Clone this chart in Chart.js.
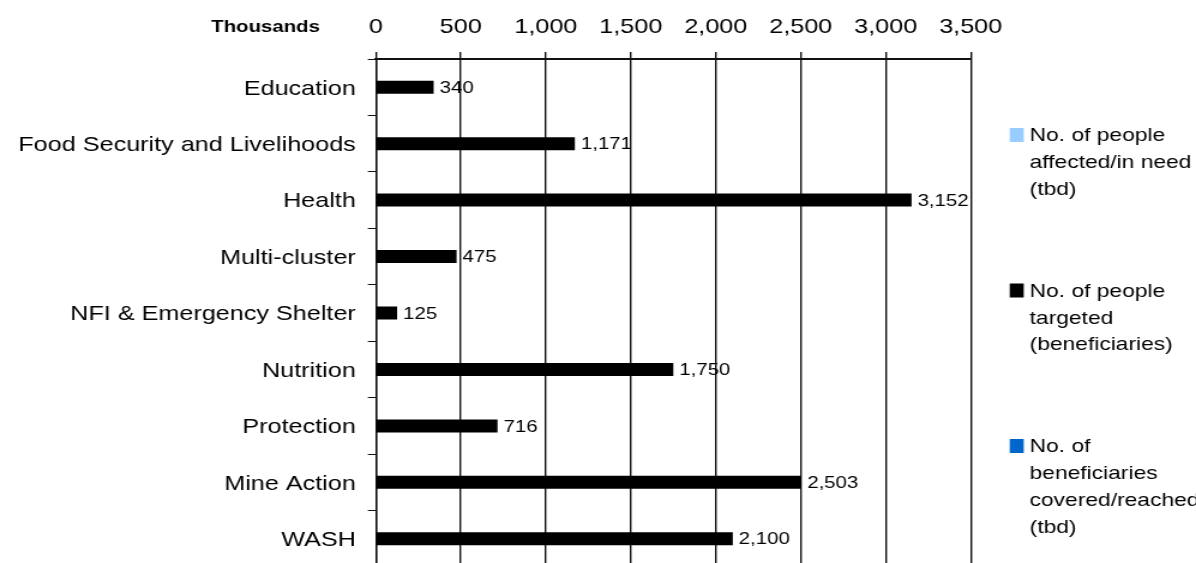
<!DOCTYPE html>
<html>
<head>
<meta charset="utf-8">
<script src="https://cdn.jsdelivr.net/npm/chart.js@4/dist/chart.umd.min.js"></script>
<style>
  html, body { margin: 0; padding: 0; background: #ffffff; overflow: hidden; }
  #wrap { width: 1196px; height: 563px; overflow: hidden; }
  /* the chart is laid out on a narrower canvas and widened, giving the broad lettering */
  #stage { width: 997px; height: 570px; transform: scaleX(1.1996); transform-origin: 0 0; }
</style>
</head>
<body>
<div id="wrap"><div id="stage"><canvas id="chart" width="997" height="570"></canvas></div></div>
<script>
// Clusters (rows, top to bottom)
const categories = [
  'Education',
  'Food Security and Livelihoods',
  'Health',
  'Multi-cluster',
  'NFI & Emergency Shelter',
  'Nutrition',
  'Protection',
  'Mine Action',
  'WASH'
];

// Series values, in thousands of people (null = not yet determined)
const peopleInNeed   = [null, null, null, null, null, null, null, null, null];
const peopleTargeted = [340, 1171, 3152, 475, 125, 1750, 716, 2503, 2100];
const peopleReached  = [null, null, null, null, null, null, null, null, null];

// Series names, as they wrap in the legend
const inNeedLabel   = ['No. of people', 'affected/in need', '(tbd)'];
const targetedLabel = ['No. of people', 'targeted', '(beneficiaries)'];
const reachedLabel  = ['No. of', 'beneficiaries', 'covered/reached', '(tbd)'];

// Value axis
const axisMin = 0;
const axisMax = 3500;
const axisStep = 500;
const axisUnit = 'Thousands';

const FONT = "'Liberation Sans', Arial, Helvetica, sans-serif";
const fmt = v => Number(v).toLocaleString('en-US');

Chart.defaults.font.family = FONT;
Chart.defaults.color = '#000000';

// Value labels at the end of each targeted bar
const barValueLabels = {
  id: 'barValueLabels',
  afterDatasetsDraw(chart) {
    const ctx = chart.ctx;
    const meta = chart.getDatasetMeta(1);
    const values = chart.data.datasets[1].data;
    ctx.save();
    ctx.font = '17px ' + FONT;
    ctx.fillStyle = '#000000';
    ctx.textAlign = 'left';
    ctx.textBaseline = 'middle';
    meta.data.forEach((bar, i) => {
      if (values[i] == null) return;
      ctx.fillText(fmt(values[i]), bar.x + 5, bar.y + 1);
    });
    ctx.restore();
  }
};

// Unit caption left of the value axis labels
const unitCaption = {
  id: 'unitCaption',
  afterDraw(chart) {
    const ctx = chart.ctx;
    ctx.save();
    ctx.font = 'bold 17px ' + FONT;
    ctx.fillStyle = '#000000';
    ctx.textAlign = 'right';
    ctx.textBaseline = 'middle';
    ctx.fillText(axisUnit, 266.7, 27);
    ctx.restore();
  }
};

// Legend on the right, one wrapped entry per series
const sideLegend = {
  id: 'sideLegend',
  afterDraw(chart) {
    const ctx = chart.ctx;
    const x0 = 841.7, textX = 858.3, firstY = 135, entryGap = 155.5, lineH = 26.8;
    ctx.save();
    ctx.font = '19px ' + FONT;
    ctx.textAlign = 'left';
    ctx.textBaseline = 'middle';
    chart.data.datasets.forEach((ds, i) => {
      const y = firstY + i * entryGap;
      ctx.fillStyle = ds.backgroundColor;
      ctx.fillRect(x0, y - 7, 11.7, 14);
      ctx.fillStyle = '#000000';
      ds.label.forEach((line, j) => ctx.fillText(line, textX, y + 1 + j * lineH));
    });
    ctx.restore();
  }
};

new Chart(document.getElementById('chart'), {
  type: 'bar',
  data: {
    labels: categories,
    datasets: [
      { label: inNeedLabel,   data: peopleInNeed,   backgroundColor: '#99CCFF' },
      { label: targetedLabel, data: peopleTargeted, backgroundColor: '#000000' },
      { label: reachedLabel,  data: peopleReached,  backgroundColor: '#0066CC' }
    ]
  },
  options: {
    indexAxis: 'y',
    responsive: false,
    animation: false,
    devicePixelRatio: 1,
    categoryPercentage: 0.69,
    barPercentage: 1.0,
    layout: { padding: { left: 0, right: 187.8, top: 0, bottom: 3 } },
    plugins: {
      legend: { display: false },
      tooltip: { enabled: false }
    },
    scales: {
      x: {
        type: 'linear',
        position: 'top',
        min: axisMin,
        max: axisMax,
        afterFit(scale) { scale.height = 59; },
        ticks: {
          stepSize: axisStep,
          color: '#000000',
          font: { size: 21 },
          padding: 12,
          callback: v => fmt(v)
        },
        grid: {
          color: '#111111',
          lineWidth: 1.4,
          drawTicks: true,
          tickLength: 7,
          tickColor: '#111111'
        },
        border: { display: true, color: '#111111', width: 2 }
      },
      y: {
        type: 'category',
        offset: true,
        afterFit(scale) {
          scale.width = 313.3;
          // rows run right up to the plot edges; no extra room for end labels
          scale.paddingTop = 0;
          scale.paddingBottom = 0;
        },
        ticks: {
          color: '#000000',
          font: { size: 21 },
          padding: 10,
          labelOffset: 1.5,
          autoSkip: false
        },
        grid: {
          offset: true,
          drawOnChartArea: false,
          drawTicks: true,
          tickLength: 6.7,
          color: '#111111',
          lineWidth: 1
        },
        border: { display: true, color: '#111111', width: 1.4 }
      }
    }
  },
  plugins: [barValueLabels, unitCaption, sideLegend]
});
</script>
</body>
</html>
